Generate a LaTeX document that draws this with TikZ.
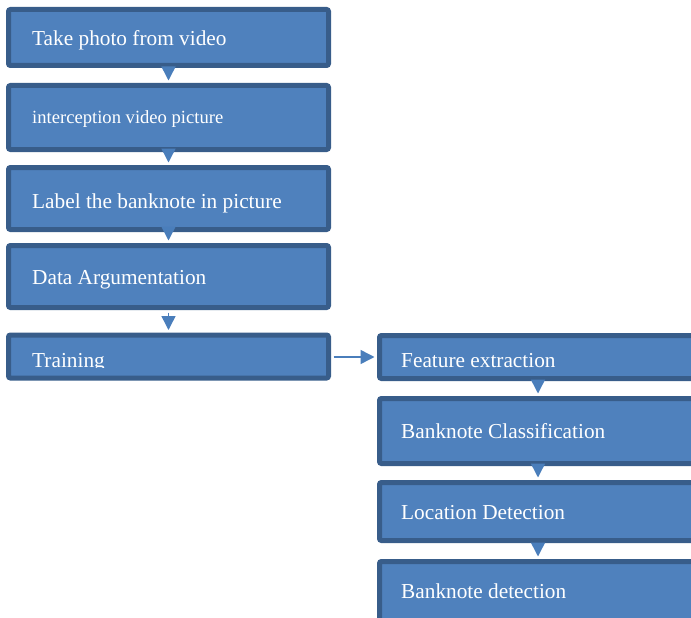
\documentclass[tikz,border=0pt]{standalone}
\usepackage{fontspec}
\setmainfont{Liberation Serif}
\usetikzlibrary{arrows.meta}
\definecolor{boxfill}{HTML}{4F81BD}
\definecolor{boxline}{HTML}{385D8A}
\definecolor{arrowc}{HTML}{4A7EBB}
\tikzset{
  stepbox/.style={draw=boxline, fill=boxfill, line width=5pt, rounded corners=2pt,
    inner sep=0pt, minimum width=#1},
  stepbox/.default=320pt,
  label/.style={anchor=base west, inner sep=0pt, text=white,
    font=\fontsize{21.3}{24}\selectfont},
  smalllabel/.style={anchor=base west, inner sep=0pt, text=white,
    font=\fontsize{18.6}{22}\selectfont},
  flow/.style={draw=arrowc, line width=1.5pt, -{Triangle[width=14pt,length=14pt]}}
}
\begin{document}
\begin{tikzpicture}[x=1pt,y=-1pt]
\useasboundingbox (0,0) rectangle (691,618);
\clip (0,0) rectangle (691,618);
% left column
\node[stepbox, minimum height=56pt] (b1) at (168.5,37.5) {};
\node[stepbox, minimum height=64pt] (b2) at (168.5,117.5) {};
\node[stepbox, minimum height=62pt] (b3) at (168.5,198.5) {};
\node[stepbox, minimum height=62pt] (b4) at (168.5,276.5) {};
\node[stepbox, minimum height=43pt] (b5) at (168.5,356.5) {};
% right column
\node[stepbox=340pt, minimum height=43pt] (b6) at (549.5,357) {};
\node[stepbox=340pt, minimum height=65pt] (b7) at (549.5,431) {};
\node[stepbox=340pt, minimum height=58pt] (b8) at (549.5,511.5) {};
\node[stepbox=340pt, minimum height=80pt] (b9) at (549.5,601.5) {};
% texts
\node[label] (t1) at (32,46) {Take photo from video};
\node[smalllabel] (t2) at (32,124) {interception video picture};
\node[label] (t3) at (32,208) {Label the banknote in picture};
\node[label] (t4) at (32,284) {Data Argumentation};
\begin{scope}
\clip (13,340) rectangle (326,367);
\node[label] (t5) at (32,367.5) {Training};
\end{scope}
\node[label] (t6) at (401,367) {Feature extraction};
\node[label] (t7) at (401,438) {Banknote Classification};
\node[label] (t8) at (401,519) {Location Detection};
\node[label] (t9) at (401,598) {Banknote detection};
% arrows
\coordinate (ax) at (538,0);
\draw[flow] ([yshift=-2.5pt]b1.south) -- ([yshift=2.5pt]b2.north);
\draw[flow] ([yshift=-2.5pt]b2.south) -- ([yshift=2.5pt]b3.north);
\draw[flow] ([yshift=-2.5pt]b3.south) -- ([yshift=2.5pt]b4.north);
\draw[flow] ([yshift=-2.5pt]b4.south) -- ([yshift=2.5pt]b5.north);
\draw[flow] ([xshift=2.5pt]b5.east |- b6.west) -- ([xshift=-2.5pt]b6.west);
\draw[flow] ([yshift=-2.5pt]b6.south -| ax) -- ([yshift=2.5pt]b7.north -| ax);
\draw[flow] ([yshift=-2.5pt]b7.south -| ax) -- ([yshift=2.5pt]b8.north -| ax);
\draw[flow] ([yshift=-2.5pt]b8.south -| ax) -- ([yshift=2.5pt]b9.north -| ax);
\end{tikzpicture}
\end{document}
